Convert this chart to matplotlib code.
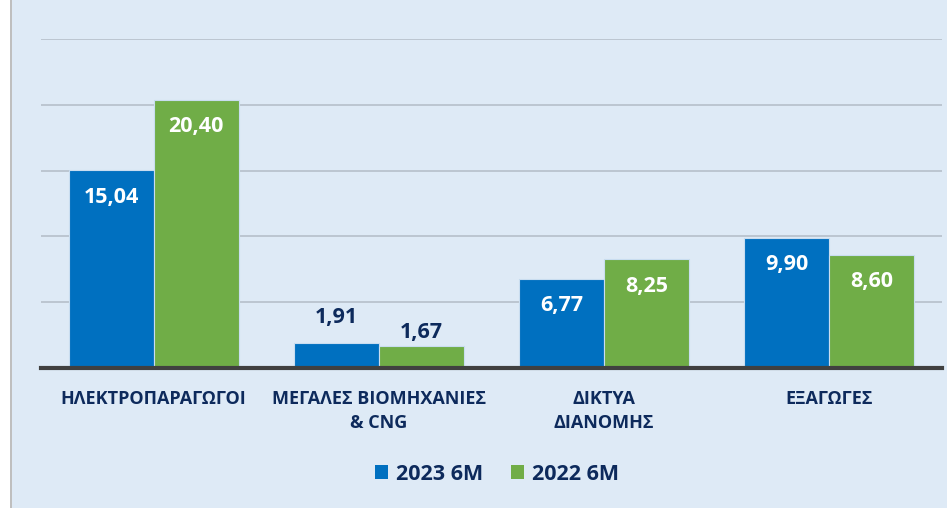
import matplotlib
matplotlib.use("Agg")
import matplotlib.pyplot as plt
from matplotlib.patches import Rectangle, Patch
import numpy as np

categories = ["ΗΛΕΚΤΡΟΠΑΡΑΓΩΓΟΙ", "ΜΕΓΑΛΕΣ ΒΙΟΜΗΧΑΝΙΕΣ\n& CNG", "ΔΙΚΤΥΑ\nΔΙΑΝΟΜΗΣ", "ΕΞΑΓΩΓΕΣ"]
series_names = ["2023 6M", "2022 6M"]
values_2023 = [15.04, 1.91, 6.77, 9.90]
values_2022 = [20.40, 1.67, 8.25, 8.60]

BG = "#DEEAF6"
BLUE = "#0070C0"
GREEN = "#70AD47"
NAVY = "#0D2A5C"
FONT = ["Open Sans", "DejaVu Sans"]

W, H = 947, 508
fig = plt.figure(figsize=(W / 100, H / 100), dpi=100)
fig.patch.set_facecolor(BG)

# white strip + border at left
fig.add_artist(Rectangle((0, 0), 10 / W, 1, transform=fig.transFigure, facecolor="white", edgecolor="none", zorder=0))
fig.add_artist(Rectangle((10 / W, 0), 1.5 / W, 1, transform=fig.transFigure, facecolor="#BFBFBF", edgecolor="none", zorder=0))

left, right = 41 / W, 942 / W
bottom, top = 1 - 368 / H, 1 - 39 / H
ax = fig.add_axes([left, bottom, right - left, top - bottom])
ax.set_facecolor("none")

x = np.arange(len(categories))
bw = 0.377
b1 = ax.bar(x - bw / 2, values_2023, bw, color=BLUE, edgecolor="#C9DDF0", linewidth=0.8, zorder=3)
b2 = ax.bar(x + bw / 2, values_2022, bw, color=GREEN, edgecolor="#C9DDF0", linewidth=0.8, zorder=3)

ax.set_xlim(-0.5, 3.5)
ax.set_ylim(0, 25)
ax.set_yticks([5, 10, 15, 20, 25])
ax.yaxis.grid(True, color="#B2BCC6", linewidth=1.1, zorder=1)
ax.tick_params(axis="both", length=0, labelleft=False, labelbottom=False)
for s in ["top", "right", "left"]:
    ax.spines[s].set_visible(False)
ax.spines["bottom"].set_color("#404040")
ax.spines["bottom"].set_linewidth(3)
ax.spines["bottom"].set_zorder(4)

def label(bars, vals, outside_offsets):
    for b, v, off in zip(bars, vals, outside_offsets):
        cx = b.get_x() + b.get_width() / 2
        txt = f"{v:.2f}".replace(".", ",")
        if off is None:
            ax.annotate(txt, (cx, v), xytext=(0, -27 * 0.72), textcoords="offset points",
                        ha="center", va="center", color="white", fontsize=15.5,
                        fontweight="bold", family=FONT, zorder=5)
        else:
            ax.annotate(txt, (cx, v), xytext=(0, off * 0.72), textcoords="offset points",
                        ha="center", va="center", color=NAVY, fontsize=15.5,
                        fontweight="bold", family=FONT, zorder=5)

label(b1, values_2023, [None, 25, None, None])
label(b2, values_2022, [None, 14, None, None])

for xi, cat in zip(x, categories):
    ax.text(xi, -22 / 329, cat, transform=ax.get_xaxis_transform(), ha="center", va="top",
            color=NAVY, fontsize=13, fontweight="bold", family=FONT, linespacing=1.45)

handles = [Patch(facecolor=BLUE, edgecolor="none"), Patch(facecolor=GREEN, edgecolor="none")]
leg = fig.legend(handles, series_names, loc="center", bbox_to_anchor=(497 / W, 1 - 474 / H),
                 ncol=2, frameon=False, handlelength=0.6, handleheight=0.6, handletextpad=0.35,
                 columnspacing=1.3, prop={"family": FONT, "weight": "bold", "size": 15.5})
for t in leg.get_texts():
    t.set_color(NAVY)

fig.savefig("out.png", dpi=100, facecolor=fig.get_facecolor())
